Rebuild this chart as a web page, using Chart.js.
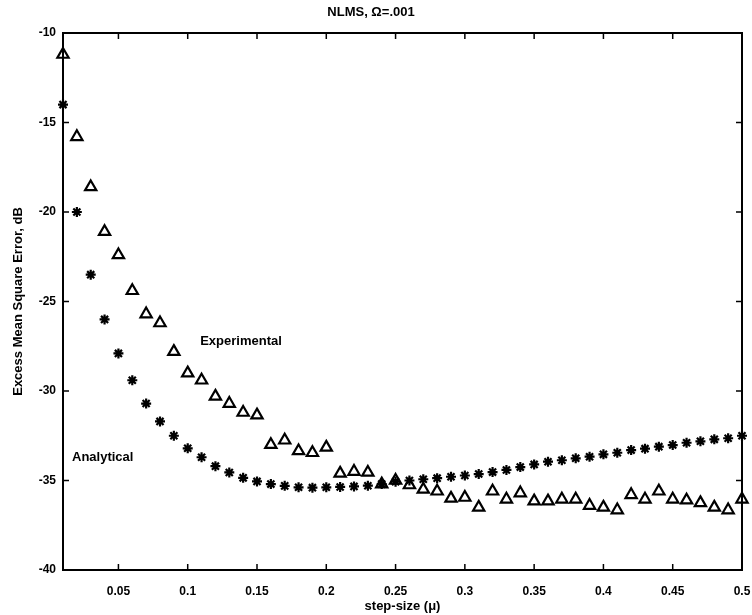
<!DOCTYPE html>
<html>
<head>
<meta charset="utf-8">
<script src="https://cdn.jsdelivr.net/npm/chart.js@4"></script>
<style>
  html, body { margin: 0; padding: 0; background: #fff; }
  #wrap { width: 752px; height: 615px; }
</style>
</head>
<body>
<div id="wrap"><canvas id="chart" width="752" height="615"></canvas></div>
<script>
// step-size values (mu)
const stepSizes = [
  0.01, 0.02, 0.03, 0.04, 0.05, 0.06, 0.07, 0.08, 0.09, 0.10,
  0.11, 0.12, 0.13, 0.14, 0.15, 0.16, 0.17, 0.18, 0.19, 0.20,
  0.21, 0.22, 0.23, 0.24, 0.25, 0.26, 0.27, 0.28, 0.29, 0.30,
  0.31, 0.32, 0.33, 0.34, 0.35, 0.36, 0.37, 0.38, 0.39, 0.40,
  0.41, 0.42, 0.43, 0.44, 0.45, 0.46, 0.47, 0.48, 0.49, 0.50
];

// analytical excess MSE, dB (asterisks)
const analytical = [
  -14.0, -20.0, -23.5, -26.0, -27.9, -29.4, -30.7, -31.7, -32.5, -33.2,
  -33.7, -34.2, -34.55, -34.85, -35.05, -35.2, -35.3, -35.38, -35.4, -35.38,
  -35.36, -35.33, -35.29, -35.2, -35.07, -35.0, -34.93, -34.87, -34.79, -34.72,
  -34.64, -34.53, -34.41, -34.25, -34.1, -33.95, -33.87, -33.76, -33.67, -33.54,
  -33.45, -33.3, -33.22, -33.11, -33.02, -32.89, -32.81, -32.7, -32.64, -32.5
];

// experimental excess MSE, dB (triangles)
const experimental = [
  -11.2, -15.8, -18.6, -21.1, -22.4, -24.4, -25.7, -26.2, -27.8, -29.0,
  -29.4, -30.3, -30.7, -31.2, -31.35, -33.0, -32.75, -33.35, -33.45, -33.15,
  -34.6, -34.5, -34.55, -35.2, -35.0, -35.25, -35.5, -35.6, -36.0, -35.95,
  -36.5, -35.6, -36.05, -35.7, -36.15, -36.15, -36.05, -36.05, -36.4, -36.5,
  -36.65, -35.8, -36.05, -35.6, -36.05, -36.1, -36.25, -36.5, -36.65, -36.05
];

const xTicks = [0.05, 0.1, 0.15, 0.2, 0.25, 0.3, 0.35, 0.4, 0.45, 0.5];
const yTicks = [-40, -35, -30, -25, -20, -15, -10];

const FONT = "'Liberation Sans', Arial, Helvetica, sans-serif";

// frame around the plot with inward ticks (matlab style)
const framePlugin = {
  id: "frame",
  afterDatasetsDraw(chart) {
    const { ctx, chartArea: a, scales } = chart;
    ctx.save();
    ctx.strokeStyle = "#000";
    ctx.lineWidth = 2;
    ctx.strokeRect(a.left, a.top, a.right - a.left, a.bottom - a.top);
    ctx.lineWidth = 1.5;
    const len = 6;
    ctx.beginPath();
    xTicks.forEach(v => {
      const px = scales.x.getPixelForValue(v);
      ctx.moveTo(px, a.bottom); ctx.lineTo(px, a.bottom - len);
      ctx.moveTo(px, a.top); ctx.lineTo(px, a.top + len);
    });
    yTicks.forEach(v => {
      const py = scales.y.getPixelForValue(v);
      ctx.moveTo(a.left, py); ctx.lineTo(a.left + len, py);
      ctx.moveTo(a.right, py); ctx.lineTo(a.right - len, py);
    });
    ctx.stroke();
    ctx.restore();
  }
};

// text labels inside the plot
const labelPlugin = {
  id: "labels",
  afterDatasetsDraw(chart, args, opts) {
    const { ctx, scales } = chart;
    ctx.save();
    ctx.fillStyle = "#000";
    ctx.font = "bold 13px " + FONT;
    ctx.textAlign = "left";
    ctx.textBaseline = "middle";
    opts.items.forEach(it => {
      ctx.fillText(it.text, scales.x.getPixelForValue(it.x), scales.y.getPixelForValue(it.y));
    });
    ctx.restore();
  }
};

const points = (ys) => stepSizes.map((x, i) => ({ x: x, y: ys[i] }));

new Chart(document.getElementById("chart"), {
  type: "scatter",
  data: {
    datasets: [
      {
        label: "Analytical",
        data: points(analytical),
        pointStyle: "star",
        radius: 5,
        borderWidth: 2.2,
        borderColor: "#000",
        backgroundColor: "#000",
        clip: false
      },
      {
        label: "Experimental",
        data: points(experimental),
        pointStyle: "triangle",
        radius: 6.5,
        borderWidth: 2.2,
        borderColor: "#000",
        backgroundColor: "rgba(0,0,0,0)",
        clip: false
      }
    ]
  },
  options: {
    responsive: false,
    animation: false,
    layout: { padding: { left: 0, right: 10, top: 0, bottom: 0 } },
    plugins: {
      legend: { display: false },
      tooltip: { enabled: false },
      title: {
        display: true,
        text: "NLMS, Ω=.001",
        color: "#000",
        font: { family: FONT, size: 13, weight: "bold" },
        padding: { top: 5, bottom: 12.4 }
      },
      labels: {
        items: [
          { text: "Experimental", x: 0.109, y: -27.25 },
          { text: "Analytical", x: 0.0165, y: -33.7 }
        ]
      }
    },
    scales: {
      x: {
        type: "linear",
        min: 0.01,
        max: 0.5,
        afterBuildTicks: s => { s.ticks = xTicks.map(v => ({ value: v })); },
        afterFit: s => { s.height = 45; s.paddingRight = 0; s.paddingLeft = 0; },
        grid: { display: false, drawTicks: false },
        border: { display: false },
        ticks: {
          color: "#000",
          padding: 14,
          maxRotation: 0,
          font: { family: FONT, size: 12, weight: "bold" },
          callback: v => String(v)
        },
        title: {
          display: true,
          text: "step-size (μ)",
          color: "#000",
          font: { family: FONT, size: 13, weight: "bold" },
          padding: { top: 0, bottom: 1 }
        }
      },
      y: {
        type: "linear",
        min: -40,
        max: -10,
        afterBuildTicks: s => { s.ticks = yTicks.map(v => ({ value: v })); },
        afterFit: s => { s.width = 63; },
        grid: { display: false, drawTicks: false },
        border: { display: false },
        ticks: {
          color: "#000",
          padding: 7,
          font: { family: FONT, size: 12, weight: "bold" },
          callback: v => String(v)
        },
        title: {
          display: true,
          text: "Excess Mean Square Error, dB",
          color: "#000",
          font: { family: FONT, size: 13, weight: "bold" },
          padding: { top: 11, bottom: 0 }
        }
      }
    }
  },
  plugins: [framePlugin, labelPlugin]
});
</script>
</body>
</html>
